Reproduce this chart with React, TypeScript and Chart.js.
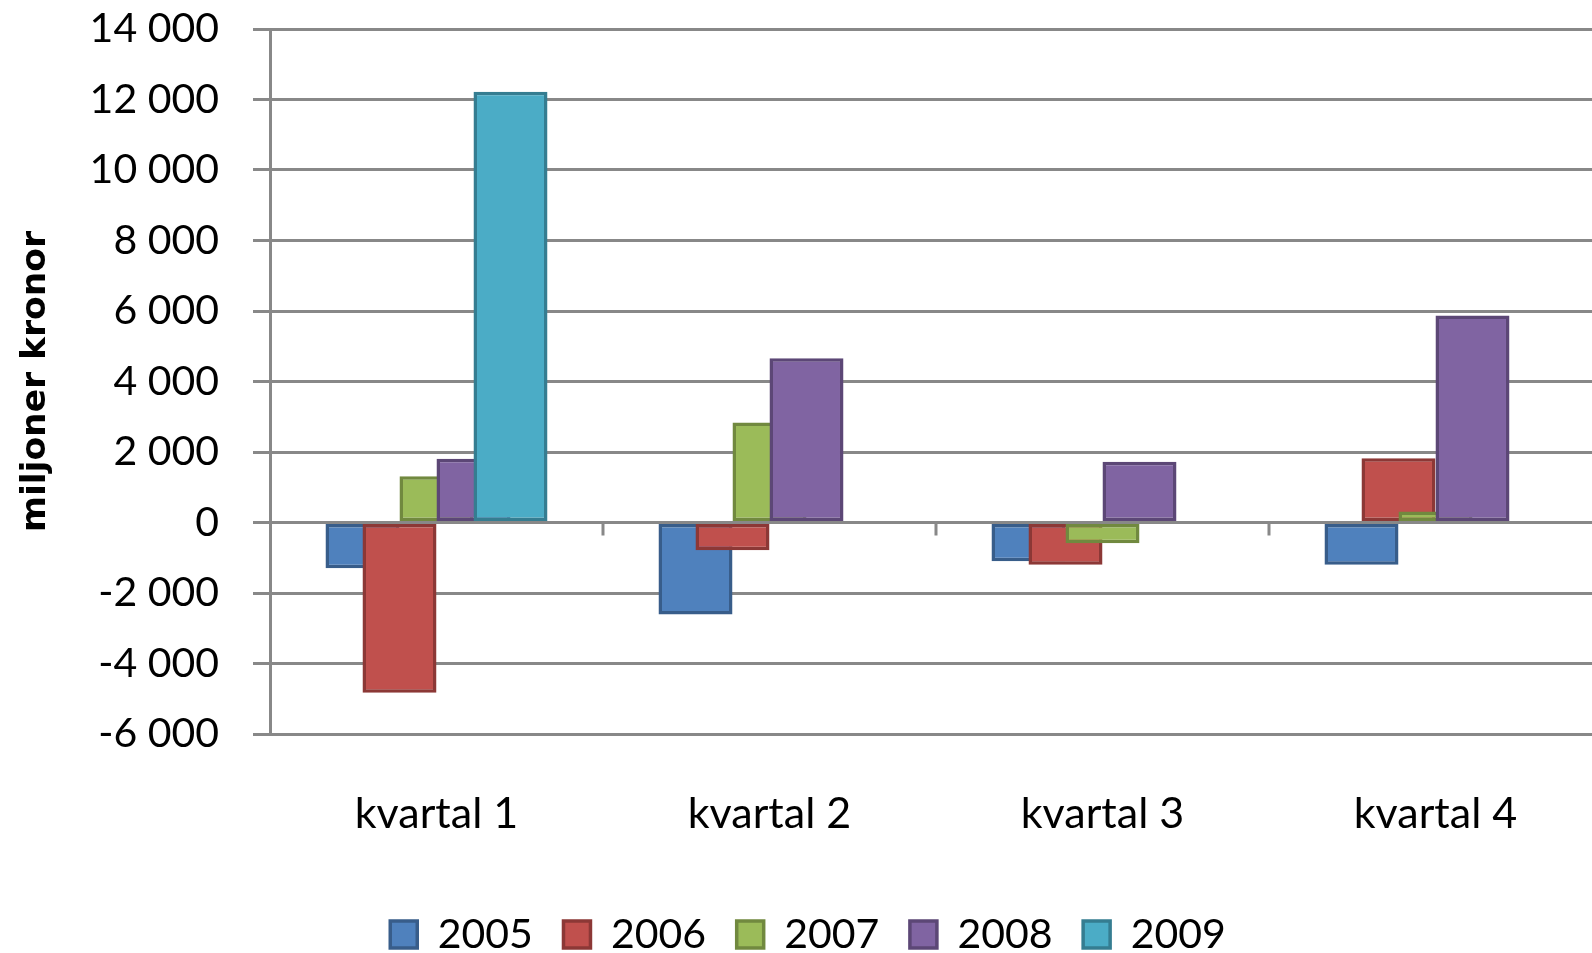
import React, { useEffect, useRef } from 'react';
import { Chart, registerables } from 'chart.js';

Chart.register(...registerables);

// ---- data ----
const categories = ['kvartal 1', 'kvartal 2', 'kvartal 3', 'kvartal 4'];
const seriesNames = ['2005', '2006', '2007', '2008', '2009'];
const values2005 = [-1300, -2610, -1100, -1200];
const values2006 = [-4830, -790, -1200, 1820];
const values2007 = [1310, 2840, -590, 310];
const values2008 = [1810, 4660, 1720, 5870];
const values2009: (number | null)[] = [12220, null, null, null];
const seriesValues = [values2005, values2006, values2007, values2008, values2009];
const yMin = -6000;
const yMax = 14000;
const yStep = 2000;
const yTitle = 'miljoner kronor';

// ---- styles ----
const fillColors = ['#4F81BD', '#C0504D', '#9BBB59', '#8064A2', '#4BACC6'];
const borderColors = ['#385D8A', '#8C3836', '#71893F', '#5C4776', '#357D91'];
const GRID = '#888888';

// Excel-like layout: gap width 150%, overlap 50% -> each bar = 1/4.5 category, step = half a bar
const BAR_STEP = 1 / 9;

function fmt(v: number): string {
  const neg = v < 0;
  const s = Math.abs(v).toString().replace(/\B(?=(\d{3})+(?!\d))/g, ' ');
  return (neg ? '-' : '') + s;
}

const zeroAxisPlugin = {
  id: 'zeroAxis',
  afterDatasetsDraw(chart: any) {
    const { ctx, chartArea, scales } = chart;
    const x = scales.x;
    const y = scales.y;
    const y0 = y.getPixelForValue(0);
    ctx.save();
    ctx.strokeStyle = GRID;
    ctx.lineWidth = 3;
    ctx.beginPath();
    ctx.moveTo(chartArea.left, y0);
    ctx.lineTo(chartArea.right, y0);
    for (let k = 1; k < categories.length; k++) {
      const px = x.getPixelForValue(k);
      ctx.moveTo(px, y0);
      ctx.lineTo(px, y0 + 13);
    }
    ctx.stroke();
    ctx.restore();
  },
};

export default function App() {
  const ref = useRef<HTMLCanvasElement>(null);

  useEffect(() => {
    if (!ref.current) return;
    Chart.defaults.font.family = 'Lato, sans-serif';
    const n = seriesNames.length;
    const datasets = seriesNames.map((name, s) => ({
      label: name,
      data: seriesValues[s].map((v, i) => ({
        x: i + 0.5 + (s - (n - 1) / 2) * BAR_STEP,
        y: v,
      })),
      backgroundColor: fillColors[s],
      borderColor: borderColors[s],
      borderWidth: 3.5,
      borderSkipped: false as const,
      grouped: false,
      barPercentage: 2,
      categoryPercentage: 1,
      order: n - s,
    }));

    const chart = new Chart(ref.current, {
      type: 'bar',
      data: { datasets: datasets as any },
      plugins: [zeroAxisPlugin],
      options: {
        animation: false,
        responsive: false,
        maintainAspectRatio: false,
        layout: { padding: { top: 29, left: 24, right: 0, bottom: -12 } },
        plugins: {
          tooltip: { enabled: false },
          legend: {
            position: 'bottom',
            labels: {
              font: { size: 41 },
              color: '#000',
              boxWidth: 27,
              boxHeight: 27,
              padding: 30.6,
              sort: (a: any, b: any) => a.datasetIndex - b.datasetIndex,
            },
          },
        },
        scales: {
          x: {
            type: 'linear',
            min: 0,
            max: 3.97,
            offset: false,
            grid: { display: false, drawTicks: false },
            border: { display: false },
            afterBuildTicks: (scale: any) => {
              scale.ticks = categories.map((_, i) => ({ value: i + 0.5 }));
            },
            afterFit: (scale: any) => {
              scale.height = 149.4;
            },
            ticks: {
              autoSkip: false,
              maxRotation: 0,
              minRotation: 0,
              padding: 54,
              color: '#000',
              font: { size: 43 },
              callback: (v: any) => {
                const idx = Math.floor(Number(v));
                return categories[idx] ?? '';
              },
            },
          },
          y: {
            type: 'linear',
            min: yMin,
            max: yMax,
            afterFit: (scale: any) => {
              scale.width = 246;
              scale.paddingTop = 0;
              scale.paddingBottom = 0;
            },
            grid: { color: GRID, lineWidth: 3, drawTicks: true, tickLength: 17, tickColor: GRID },
            border: { display: true, color: GRID, width: 3 },
            ticks: {
              stepSize: yStep,
              padding: 34,
              color: '#000',
              font: { size: 41 },
              callback: (v: any) => fmt(Number(v)),
            },
            title: {
              display: true,
              text: yTitle,
              color: '#000',
              font: { family: 'DejaVu Sans', weight: 'bold', size: 34.5 },
              padding: { top: -9, bottom: 0 },
            },
          },
        },
      } as any,
    });
    return () => chart.destroy();
  }, []);

  return (
    <canvas
      ref={ref}
      width={1592}
      height={953}
      style={{ position: 'absolute', left: 0, top: 0, background: '#fff' }}
    />
  );
}
